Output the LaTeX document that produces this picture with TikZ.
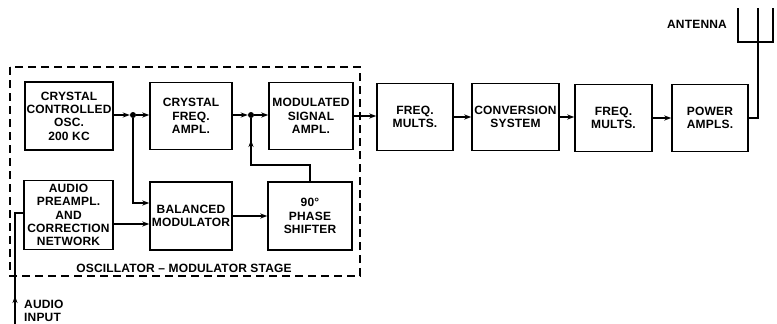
\documentclass[tikz,border=0pt]{standalone}
\usepackage{fontspec}
\setmainfont{Liberation Sans}[LetterSpace=1.5]
\usetikzlibrary{arrows.meta,calc}
\begin{document}
\begin{tikzpicture}[x=1pt,y=-1pt,
  blk/.style={draw,line width=1.4pt,align=center,inner sep=1pt,font=\fontsize{12}{13.4}\selectfont\bfseries},
  arr/.style={-{Stealth[length=7pt,width=5pt]},line width=1.2pt},
  ln/.style={line width=1.2pt},
  dotn/.style={circle,fill,inner sep=0pt,minimum size=6pt},
  lbl/.style={font=\fontsize{12}{13.4}\selectfont\bfseries,align=left,inner sep=0pt},
  frame/.style={line width=1.5pt,dash pattern=on 8pt off 5pt}]
\useasboundingbox (0,0) rectangle (777,324);
% dashed stage frame
\draw[frame] (10,67) rectangle (360,276);
\node[lbl] (stage) at (184,268) {OSCILLATOR -- MODULATOR STAGE};
% top row
\node[blk,minimum width=88pt,minimum height=68pt] (osc) at (69,116) {CRYSTAL\\CONTROLLED\\OSC.\\200 KC};
\node[blk,minimum width=82pt,minimum height=67pt] (cfa) at (191,116) {CRYSTAL\\FREQ.\\AMPL.};
\node[blk,minimum width=84pt,minimum height=67pt] (msa) at (311,116) {MODULATED\\SIGNAL\\AMPL.};
\node[blk,minimum width=76pt,minimum height=67pt] (fm1) at (415,117) {FREQ.\\MULTS.};
\node[blk,minimum width=87pt,minimum height=67pt] (conv) at (515.5,117) {CONVERSION\\SYSTEM};
\node[blk,minimum width=77pt,minimum height=67pt] (fm2) at (613.5,118) {FREQ.\\MULTS.};
\node[blk,minimum width=76pt,minimum height=67pt] (pa) at (710,118) {POWER\\AMPLS.};
% bottom row
\node[blk,minimum width=89pt,minimum height=69pt] (aud) at (68.5,215) {AUDIO\\PREAMPL.\\AND\\CORRECTION\\NETWORK};
\node[blk,minimum width=82pt,minimum height=68pt] (bal) at (191,216) {BALANCED\\MODULATOR};
\node[blk,minimum width=84pt,minimum height=68pt] (ph) at (310,216) {90°\\PHASE\\SHIFTER};
% dots
\node[dotn] (d1) at (133,115) {};
\node[dotn] (d2) at (251,115) {};
% connectors
\draw[arr] (osc.east |- d1) -- (d1);
\draw[arr] (d1) -- (d1 -| cfa.west);
\draw[arr] (cfa.east |- d2) -- (d2);
\draw[arr] (d2) -- (d2 -| msa.west);
\draw[arr] (d1) |- ([yshift=13pt]bal.west);
\draw[arr] ([yshift=-9pt]aud.east) -- ([yshift=-9pt]aud.east -| bal.west);
\draw[arr] (bal.east) -- (ph.west);
\coordinate (fb) at (251,165);
\coordinate (fbm) at (251,140);
\draw[ln] (ph.north) |- (fb) -- (d2);
\draw[arr] (fb) -- (fbm);
\draw[arr] (msa.east) -- (msa.east -| fm1.west);
\draw[arr] (fm1.east) -- (fm1.east -| conv.west);
\draw[arr] (conv.east) -- (conv.east -| fm2.west);
\draw[arr] (fm2.east) -- (fm2.east -| pa.west);
% antenna
\coordinate (mtop) at (758,8);
\coordinate (al) at (738,42);
\coordinate (ar) at (773,42);
\coordinate (alt) at (738,8);
\coordinate (art) at (773,8);
\draw[ln] (pa.east) -| (mtop);
\draw[ln] (alt) -- (al) -- (ar) -- (art);
\node[lbl] (ant) at (697,24) {ANTENNA};
% audio input
\coordinate (ain) at (15,324);
\coordinate (ainm) at (15,296);
\draw[ln] (ain) |- ([yshift=2pt]aud.west);
\draw[arr] (ain) -- (ainm);
\node[lbl,anchor=west] (ainl) at (24,311) {AUDIO\\INPUT};
\end{tikzpicture}
\end{document}
